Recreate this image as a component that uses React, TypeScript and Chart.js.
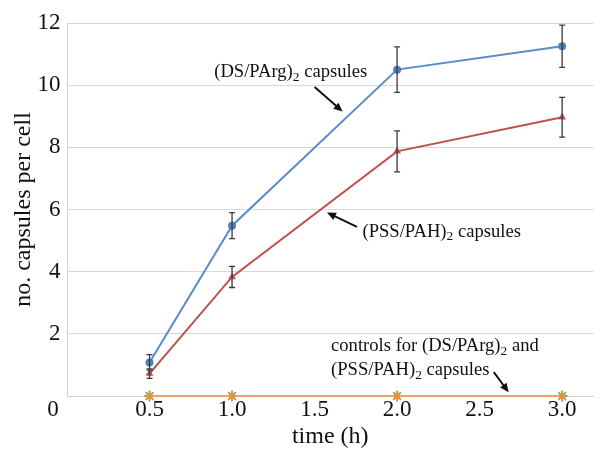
import React, { useEffect, useRef } from "react";
import { Chart, registerables } from "chart.js";

Chart.register(...registerables);

// ---- data ----
const timesH = [0.5, 1.0, 2.0, 3.0];
const dsPArg = [1.08, 5.48, 10.5, 11.25];
const dsPArgErr = [0.25, 0.42, 0.73, 0.68];
const pssPah = [0.72, 3.83, 7.87, 8.97];
const pssPahErr = [0.15, 0.34, 0.66, 0.64];
const controlsDs = [0, 0, 0, 0];
const controlsPss = [0, 0, 0, 0];
const xTickValues = [0.5, 1.0, 1.5, 2.0, 2.5, 3.0];
const yTickValues = [2, 4, 6, 8, 10, 12];

const SERIF = "'Liberation Serif', 'Times New Roman', serif";

type Part = [string, boolean];
const annotations: { lines: Part[][]; x: number; y: number; arrow: number[] }[] = [
  {
    lines: [[["(DS/PArg)", false], ["2", true], [" capsules", false]]],
    x: 0.892,
    y: 10.42,
    arrow: [1.5, 9.94, 1.67, 9.15],
  },
  {
    lines: [[["(PSS/PAH)", false], ["2", true], [" capsules", false]]],
    x: 1.79,
    y: 5.28,
    arrow: [1.757, 5.44, 1.575, 5.9],
  },
  {
    lines: [
      [["controls for (DS/PArg)", false], ["2", true], [" and", false]],
      [["(PSS/PAH)", false], ["2", true], [" capsules", false]],
    ],
    x: 1.6,
    y: 1.61,
    arrow: [2.586, 0.77, 2.676, 0.12],
  },
];

const overlayPlugin = {
  id: "overlay",
  afterDatasetsDraw(chart: any) {
    const ctx = chart.ctx;
    const xs = chart.scales.x;
    const ys = chart.scales.y;
    // error bars
    const drawErr = (vals: number[], errs: number[]) => {
      ctx.save();
      ctx.strokeStyle = "#3a3a3a";
      ctx.lineWidth = 1.3;
      vals.forEach((v, i) => {
        const px = xs.getPixelForValue(timesH[i]);
        const top = ys.getPixelForValue(v + errs[i]);
        const bot = ys.getPixelForValue(v - errs[i]);
        ctx.beginPath();
        ctx.moveTo(px, top);
        ctx.lineTo(px, bot);
        ctx.moveTo(px - 3, top);
        ctx.lineTo(px + 3, top);
        ctx.moveTo(px - 3, bot);
        ctx.lineTo(px + 3, bot);
        ctx.stroke();
      });
      ctx.restore();
    };
    drawErr(dsPArg, dsPArgErr);
    drawErr(pssPah, pssPahErr);

    // annotations
    ctx.save();
    ctx.fillStyle = "#111";
    ctx.textBaseline = "middle";
    ctx.textAlign = "left";
    annotations.forEach((a) => {
      const x0 = xs.getPixelForValue(a.x);
      let y0 = ys.getPixelForValue(a.y);
      a.lines.forEach((line) => {
        let cx = x0;
        line.forEach(([t, sub]) => {
          ctx.font = sub ? `13.5px ${SERIF}` : `18.6px ${SERIF}`;
          ctx.fillText(t, cx, sub ? y0 + 5 : y0);
          cx += ctx.measureText(t).width;
        });
        y0 += 24;
      });
      const [ax1, ay1, ax2, ay2] = a.arrow;
      const p1x = xs.getPixelForValue(ax1);
      const p1y = ys.getPixelForValue(ay1);
      const p2x = xs.getPixelForValue(ax2);
      const p2y = ys.getPixelForValue(ay2);
      const ang = Math.atan2(p2y - p1y, p2x - p1x);
      const hl = 9;
      const hw = 4;
      ctx.strokeStyle = "#111";
      ctx.lineWidth = 2;
      ctx.beginPath();
      ctx.moveTo(p1x, p1y);
      ctx.lineTo(p2x - Math.cos(ang) * hl * 0.8, p2y - Math.sin(ang) * hl * 0.8);
      ctx.stroke();
      ctx.beginPath();
      ctx.moveTo(p2x, p2y);
      ctx.lineTo(
        p2x - Math.cos(ang) * hl - Math.sin(ang) * hw,
        p2y - Math.sin(ang) * hl + Math.cos(ang) * hw
      );
      ctx.lineTo(
        p2x - Math.cos(ang) * hl + Math.sin(ang) * hw,
        p2y - Math.sin(ang) * hl - Math.cos(ang) * hw
      );
      ctx.closePath();
      ctx.fill();
    });
    // "0" label
    ctx.font = `23px ${SERIF}`;
    ctx.textAlign = "center";
    ctx.fillText("0", xs.left - 14, ys.bottom + 14);
    ctx.restore();
  },
};

export default function App() {
  const ref = useRef<HTMLCanvasElement>(null);
  useEffect(() => {
    document.body.style.margin = "0";
    const chart = new Chart(ref.current!, {
      type: "line",
      data: {
        datasets: [
          {
            label: "(DS/PArg)2 capsules",
            data: timesH.map((t, i) => ({ x: t, y: dsPArg[i] })),
            borderColor: "#5b8bc8",
            backgroundColor: "#4f81bd",
            borderWidth: 2,
            pointStyle: "circle",
            pointRadius: 4,
            pointBorderWidth: 0,
            clip: false,
          },
          {
            label: "(PSS/PAH)2 capsules",
            data: timesH.map((t, i) => ({ x: t, y: pssPah[i] })),
            borderColor: "#c0504d",
            backgroundColor: "#c0504d",
            borderWidth: 2,
            pointStyle: "triangle",
            pointRadius: 4.5,
            pointBorderWidth: 0,
            clip: false,
          },
          {
            label: "controls (PSS/PAH)2",
            data: timesH.map((t, i) => ({ x: t, y: controlsPss[i] })),
            borderColor: "#f4a064",
            backgroundColor: "#e8923f",
            borderWidth: 2,
            pointStyle: "circle",
            pointRadius: 3.2,
            pointBorderWidth: 0,
            clip: false,
          },
          {
            label: "controls (DS/PArg)2",
            data: timesH.map((t, i) => ({ x: t, y: controlsDs[i] })),
            borderColor: "#8fb05a",
            backgroundColor: "#8fb05a",
            borderWidth: 0,
            showLine: false,
            pointStyle: "star",
            pointRadius: 5.5,
            pointBorderWidth: 2,
            clip: false,
          },
        ],
      },
      options: {
        animation: false,
        responsive: false,
        layout: { padding: { top: 23, right: 1, bottom: 0, left: 0 } },
        plugins: { legend: { display: false }, tooltip: { enabled: false } },
        scales: {
          x: {
            type: "linear",
            min: 0,
            max: 3.19,
            afterBuildTicks: (s: any) => {
              s.ticks = xTickValues.map((v) => ({ value: v }));
            },
            afterFit: (s: any) => {
              s.height = 58;
            },
            grid: { display: false, drawTicks: false },
            border: { display: true, color: "#d0d0d0", width: 1 },
            ticks: {
              padding: 0,
              color: "#111",
              font: { family: SERIF, size: 23 },
              maxRotation: 0,
              autoSkip: false,
              callback: (v: any) => Number(v).toFixed(1),
            },
            title: {
              display: true,
              text: "time (h)",
              color: "#111",
              font: { family: SERIF, size: 24 },
              padding: { top: 0, bottom: 2.6 },
            },
          },
          y: {
            min: 0,
            max: 12,
            afterBuildTicks: (s: any) => {
              s.ticks = [0, ...yTickValues].map((v) => ({ value: v }));
            },
            afterFit: (s: any) => {
              s.width = 67;
            },
            grid: { color: "#d9d9d9", lineWidth: 1, drawTicks: false },
            border: { display: true, color: "#d0d0d0", width: 1 },
            ticks: {
              padding: 6.5,
              color: "#111",
              font: { family: SERIF, size: 23 },
              callback: (v: any) => (Number(v) === 0 ? "" : String(v)),
            },
            title: {
              display: true,
              text: "no. capsules per cell",
              color: "#111",
              font: { family: SERIF, size: 24 },
              padding: { top: 9.6, bottom: 0 },
            },
          },
        },
      },
      plugins: [overlayPlugin],
    } as any);
    return () => chart.destroy();
  }, []);
  return <canvas ref={ref} width={601} height={454} style={{ display: "block" }} />;
}
